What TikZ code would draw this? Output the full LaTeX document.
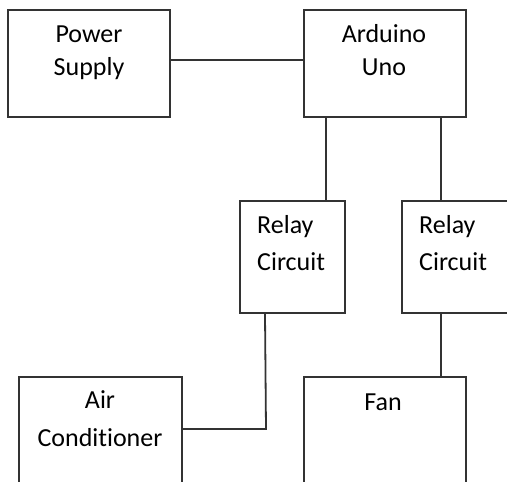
\documentclass[tikz,border=0pt]{standalone}
\usepackage{fontspec}
\setmainfont{Carlito}[Ligatures={NoCommon}]
\begin{document}
\begin{tikzpicture}[x=1pt,y=-1pt,
  box/.style={draw=black!80,line width=1.8pt,rectangle,inner sep=0pt,fill=white},
  txt/.style={font=\fontsize{26}{32}\selectfont,inner sep=0pt,text=black},
  wire/.style={draw=black!80,line width=1.8pt}]
\useasboundingbox (0,0) rectangle (507,482);
\clip (0,0) rectangle (507,482);
% boxes
\node[box,minimum width=162pt,minimum height=107pt] (ps) at (89,63.5) {};
\node[box,minimum width=162pt,minimum height=107pt] (ard) at (385,63.5) {};
\node[box,minimum width=105pt,minimum height=112pt] (r1) at (292.5,257) {};
\node[box,minimum width=108pt,minimum height=112pt] (r2) at (456,257) {};
\node[box,minimum width=163pt,minimum height=115pt] (ac) at (100.5,434.5) {};
\node[box,minimum width=162pt,minimum height=115pt] (fan) at (385,434.5) {};
% texts
\node[txt,anchor=base] (ps1) at (89,42) {Power};
\node[txt,anchor=base] (ps2) at (89,75) {Supply};
\node[txt,anchor=base] (ard1) at (384,42) {Arduino};
\node[txt,anchor=base] (ard2) at (384,75) {Uno};
\node[txt,anchor=base west] (r1a) at (257,233) {Relay};
\node[txt,anchor=base west] (r1b) at (257,270) {Circuit};
\node[txt,anchor=base west] (r2a) at (419,233) {Relay};
\node[txt,anchor=base west] (r2b) at (419,270) {Circuit};
\node[txt,anchor=base] (ac1) at (100,408) {Air};
\node[txt,anchor=base] (ac2) at (100,446) {Conditioner};
\node[txt,anchor=base] (fan1) at (383,410) {Fan};
% connectors
\draw[wire] ([yshift=3.5pt]ps.east) -- ([yshift=3.5pt]ard.west);
\draw[wire] ([xshift=33.5pt]r1.north) coordinate (a1) -- (a1 |- ard.south);
\draw[wire] ([xshift=56pt]ard.south) coordinate (a2) -- (a2 |- r2.north);
\draw[wire] ([xshift=56pt]fan.north) coordinate (a3) -- (a3 |- r2.south);
\draw[wire] ([xshift=-27.5pt]r1.south) -- ([xshift=-26.5pt,yshift=-115pt]r1.south) coordinate (a4) -- (a4 -| ac.east);
\end{tikzpicture}
\end{document}
